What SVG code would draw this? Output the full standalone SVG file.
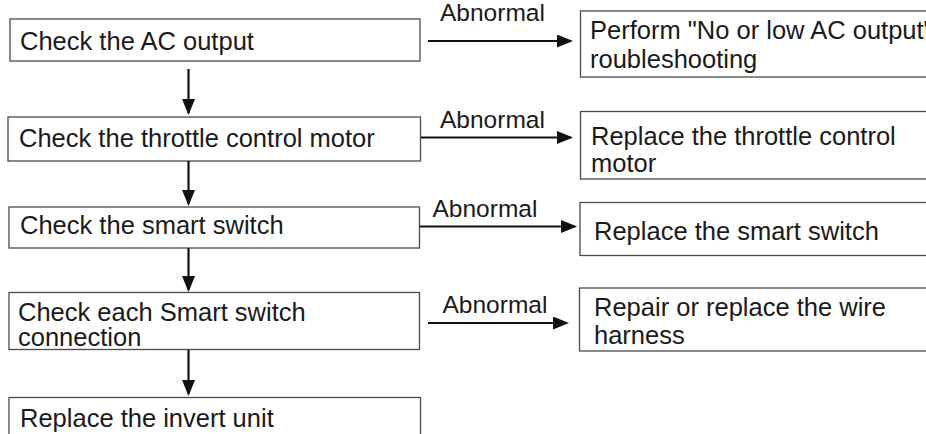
<svg xmlns="http://www.w3.org/2000/svg" width="926" height="434" viewBox="0 0 926 434">
  <style>
    .box { fill: #ffffff; stroke: #4a4a4a; stroke-width: 1.3; }
    .txt { font-family: "Liberation Sans", Arial, sans-serif; font-size: 25.5px; fill: #1a1a1a; }
    .lbl { font-family: "Liberation Sans", Arial, sans-serif; font-size: 24.5px; fill: #1a1a1a; }
    .conn { stroke: #111111; stroke-width: 2.2; fill: none; marker-end: url(#arrow); }
  </style>
  <defs>
    <marker id="arrow" markerUnits="userSpaceOnUse" markerWidth="16" markerHeight="14" refX="14" refY="6.5" orient="auto">
      <path d="M0,0 L16,6.5 L0,13 Z" fill="#111111"/>
    </marker>
  </defs>
  <rect width="926" height="434" fill="#ffffff"/>

  <g id="n1">
    <rect class="box" x="10" y="19" width="410" height="42"/>
    <text class="txt" x="20" y="50">Check the AC output</text>
  </g>
  <g id="n2">
    <rect class="box" x="8" y="117" width="412.5" height="44"/>
    <text class="txt" x="19" y="147">Check the throttle control motor</text>
  </g>
  <g id="n3">
    <rect class="box" x="9" y="207" width="410.5" height="41"/>
    <text class="txt" x="20" y="234">Check the smart switch</text>
  </g>
  <g id="n4">
    <rect class="box" x="9" y="292.5" width="410.5" height="57"/>
    <text class="txt" x="18" y="320.5">Check each Smart switch</text>
    <text class="txt" x="18" y="346">connection</text>
  </g>
  <g id="n5">
    <rect class="box" x="9" y="397.5" width="411.5" height="50"/>
    <text class="txt" x="20" y="427">Replace the invert unit</text>
  </g>

  <g id="r1">
    <rect class="box" x="580.5" y="11" width="360" height="66"/>
    <text class="txt" x="590" y="38.5">Perform "No or low AC output"</text>
    <text class="txt" x="590" y="67.5">roubleshooting</text>
  </g>
  <g id="r2">
    <rect class="box" x="580.5" y="111.5" width="360" height="67.5"/>
    <text class="txt" x="591" y="145">Replace the throttle control</text>
    <text class="txt" x="591" y="172">motor</text>
  </g>
  <g id="r3">
    <rect class="box" x="580" y="202.5" width="360" height="53"/>
    <text class="txt" x="594" y="239.5">Replace the smart switch</text>
  </g>
  <g id="r4">
    <rect class="box" x="579.5" y="288" width="360" height="63"/>
    <text class="txt" x="594" y="315.5">Repair or replace the wire</text>
    <text class="txt" x="594" y="344">harness</text>
  </g>

  <g id="connectors">
    <line class="conn" x1="188.5" y1="69" x2="188.5" y2="113"/>
    <line class="conn" x1="188.5" y1="161" x2="188.5" y2="204"/>
    <line class="conn" x1="188.5" y1="248" x2="188.5" y2="290"/>
    <line class="conn" x1="188.5" y1="350" x2="188.5" y2="394"/>

    <line class="conn" x1="428" y1="41" x2="571" y2="41"/>
    <line class="conn" x1="421" y1="137.5" x2="571" y2="137.5"/>
    <line class="conn" x1="420" y1="226.5" x2="575" y2="226.5"/>
    <line class="conn" x1="428" y1="323" x2="567" y2="323"/>

    <text class="lbl" x="440" y="21">Abnormal</text>
    <text class="lbl" x="440" y="128">Abnormal</text>
    <text class="lbl" x="432.5" y="216.5">Abnormal</text>
    <text class="lbl" x="442.5" y="312.5">Abnormal</text>
  </g>
</svg>
